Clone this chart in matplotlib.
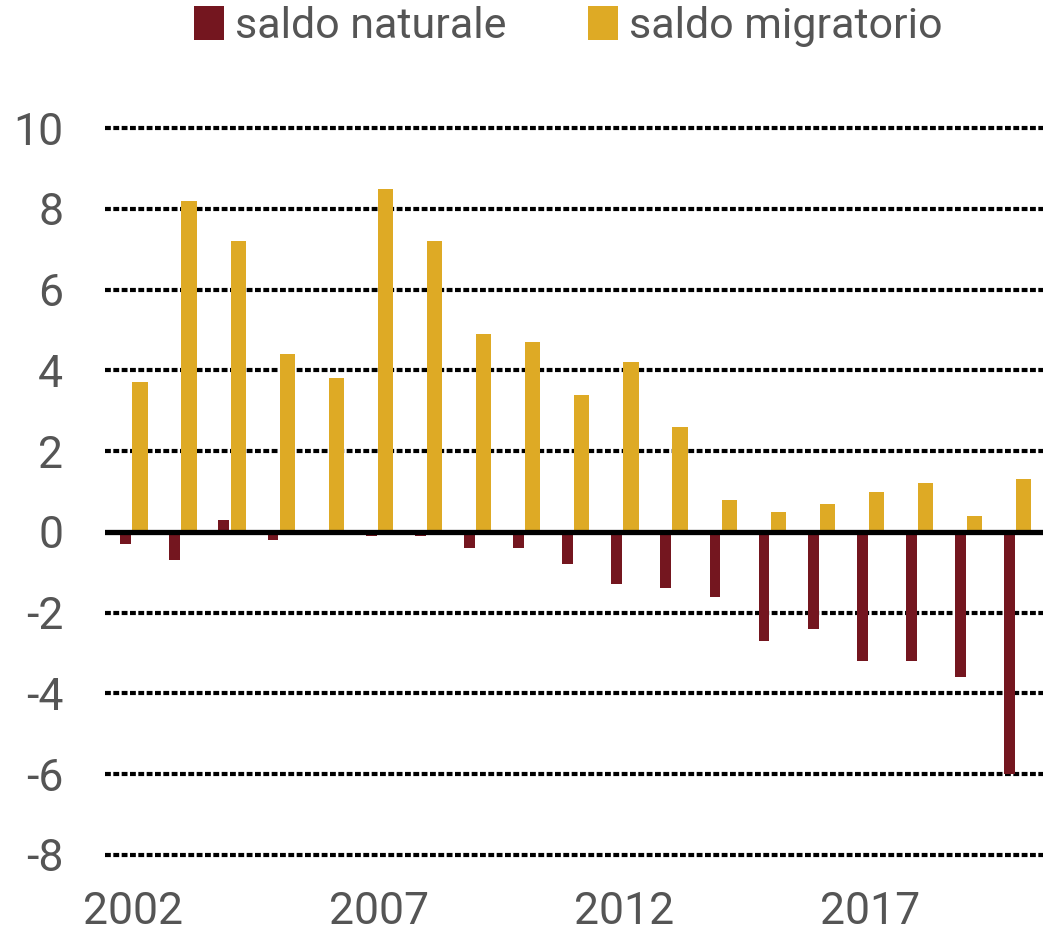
import numpy as np
import matplotlib.pyplot as plt

# anni e saldi (per 1000 abitanti)
years = list(range(2002, 2021))
saldo_naturale = [-0.3, -0.7, 0.3, -0.2, 0.0, -0.1, -0.1, -0.4, -0.4, -0.8,
                  -1.3, -1.4, -1.6, -2.7, -2.4, -3.2, -3.2, -3.6, -6.0]
saldo_migratorio = [3.7, 8.2, 7.2, 4.4, 3.8, 8.5, 7.2, 4.9, 4.7, 3.4,
                    4.2, 2.6, 0.8, 0.5, 0.7, 1.0, 1.2, 0.4, 1.3]
yticks = [-8, -6, -4, -2, 0, 2, 4, 6, 8, 10]
xticks = [2002, 2007, 2012, 2017]

RED = '#74161f'
GOLD = '#deaa25'
GREY = '#555555'

plt.rcParams['font.family'] = ['Roboto', 'DejaVu Sans']

fig = plt.figure(figsize=(10.43, 9.34), dpi=100)
ax = fig.add_axes([0.1007, 0.076, 0.8993, 0.7955])

x = np.array(years)
ax.bar(x - 0.15, saldo_naturale, width=0.22, color=RED, zorder=2, label='saldo naturale')
ax.bar(x + 0.14, saldo_migratorio, width=0.31, color=GOLD, zorder=2, label='saldo migratorio')

for y in yticks:
    if y == 0:
        continue
    ax.axhline(y, color='black', lw=3, linestyle=(0, (1.4, 0.6)), zorder=1)
ax.axhline(0, color='black', lw=3.8, zorder=3)

ax.set_xlim(2001.43, 2020.53)
ax.set_ylim(-8.2, 10.2)
ax.set_yticks(yticks)
ax.set_yticklabels([str(v) for v in yticks])
ax.set_xticks(xticks)
ax.set_xticklabels([str(v) for v in xticks])
ax.tick_params(axis='both', length=0, labelsize=32, colors=GREY)
ax.tick_params(axis='y', pad=30)
ax.tick_params(axis='x', pad=20)
for s in ax.spines.values():
    s.set_visible(False)

fig.legend(loc='upper center', bbox_to_anchor=(0.545, 1.035), ncol=2, frameon=False,
           fontsize=31, handlelength=0.7, handleheight=0.85, handletextpad=0.25,
           columnspacing=1.9, labelcolor=GREY)

fig.savefig('out.png', dpi=100)
